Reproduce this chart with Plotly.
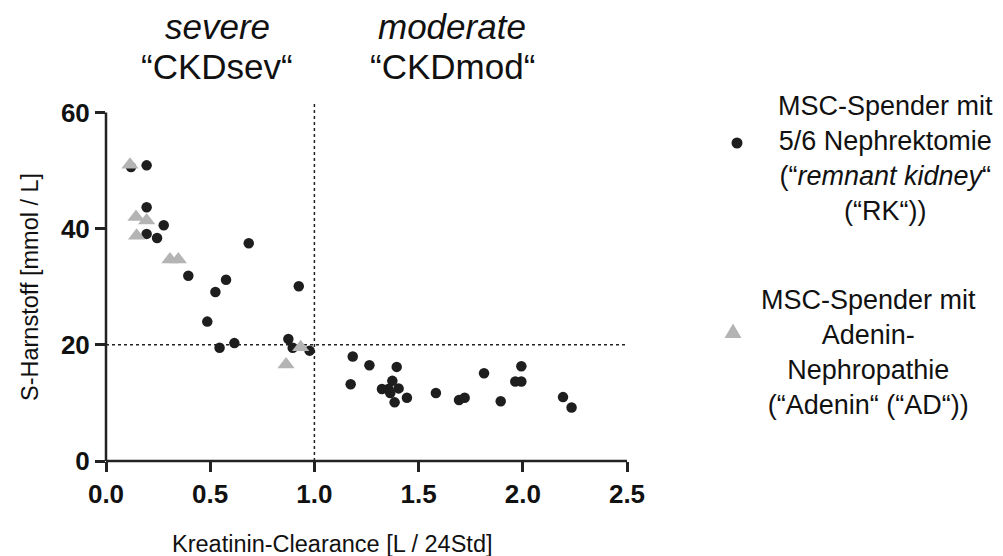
import plotly.graph_objects as go

# ---- data ----
rk_x = [0.12, 0.195, 0.195, 0.277, 0.195, 0.245, 0.685, 0.395, 0.576, 0.525, 0.925, 0.486,
        0.616, 0.545, 0.875, 0.896, 0.977, 1.184, 1.264, 1.395, 1.174, 1.374, 1.324, 1.355,
        1.404, 1.364, 1.444, 1.385, 1.583, 1.694, 1.721, 1.814, 1.993, 1.964, 1.993, 1.894,
        2.193, 2.234]
rk_y = [50.6, 50.9, 43.7, 40.6, 39.1, 38.4, 37.5, 31.9, 31.2, 29.1, 30.1, 24.0,
        20.3, 19.5, 21.0, 19.5, 19.0, 18.0, 16.5, 16.2, 13.2, 13.8, 12.4, 12.4,
        12.5, 11.7, 10.9, 10.1, 11.7, 10.5, 10.9, 15.1, 16.3, 13.7, 13.7, 10.3,
        11.0, 9.2]
ad_x = [0.115, 0.144, 0.195, 0.147, 0.307, 0.347, 0.934, 0.864]
ad_y = [51.0, 42.0, 41.4, 38.8, 34.7, 34.7, 19.6, 16.6]

x_ticks = [0.0, 0.5, 1.0, 1.5, 2.0, 2.5]
x_ticklabels = ["0.0", "0.5", "1.0", "1.5", "2.0", "2.5"]
y_ticks = [0, 20, 40, 60]
y_ticklabels = ["0", "20", "40", "60"]
x_threshold = 1.0
y_threshold = 20

# ---- layout geometry (pixels) ----
W, H = 1003, 556
ML, MR, MT, MB = 106, 376, 98, 95
PW, PH = W - ML - MR, H - MT - MB
XMAX, YMAX = 2.5, 62.5
FONT = "Arial, Liberation Sans, sans-serif"
AX = "#222222"
TXT = "#111111"


def xp(px):
    return (px - ML) / PW


def yp(py):
    return (H - MB - py) / PH


fig = go.Figure()
fig.add_trace(go.Scatter(x=rk_x, y=rk_y, mode="markers", cliponaxis=False,
                         marker=dict(symbol="circle", size=10.5, color="#1e1e1e"),
                         showlegend=False))
fig.add_trace(go.Scatter(x=ad_x, y=ad_y, mode="markers", cliponaxis=False,
                         marker=dict(symbol="triangle-up", size=15, color="#b4b4b4"),
                         showlegend=False))

shapes = [
    # reference dotted lines
    dict(type="line", xref="x", yref="y", x0=x_threshold, x1=x_threshold, y0=0, y1=61.8,
         line=dict(color="#222222", width=1.5, dash="dot"), layer="below"),
    dict(type="line", xref="x", yref="y", x0=0, x1=XMAX, y0=y_threshold, y1=y_threshold,
         line=dict(color="#222222", width=1.5, dash="dot"), layer="below"),
    # axis lines
    dict(type="line", xref="paper", yref="paper", x0=0, x1=0, y0=0, y1=60 / YMAX,
         line=dict(color=AX, width=2.5)),
    dict(type="line", xref="paper", yref="paper", x0=0, x1=1, y0=0, y1=0,
         line=dict(color=AX, width=2.5)),
    # legend markers
    dict(type="circle", xref="paper", yref="paper", xsizemode="pixel", ysizemode="pixel",
         xanchor=xp(737), yanchor=yp(143), x0=-5.5, x1=5.5, y0=-5.5, y1=5.5,
         fillcolor="#1e1e1e", line=dict(width=0)),
    dict(type="path", xref="paper", yref="paper", xsizemode="pixel", ysizemode="pixel",
         xanchor=xp(733), yanchor=yp(332), path="M -8.5 -6 L 8.5 -6 L 0 8.5 Z",
         fillcolor="#b4b4b4", line=dict(width=0)),
]

annotations = [
    dict(text="<i>severe</i>", x=xp(217), y=yp(27)),
    dict(text="“CKDsev“", x=xp(217), y=yp(67)),
    dict(text="<i>moderate</i>", x=xp(452), y=yp(27)),
    dict(text="“CKDmod“", x=xp(452), y=yp(67)),
]
annotations = [dict(a, xref="paper", yref="paper", showarrow=False,
                    xanchor="center", yanchor="middle",
                    font=dict(family=FONT, size=35, color=TXT)) for a in annotations]

leg1 = "MSC-Spender mit<br>5/6 Nephrektomie<br>(“<i>remnant kidney</i>“<br>(“RK“))"
leg2 = "MSC-Spender mit<br>Adenin-<br>Nephropathie<br>(“Adenin“ (“AD“))"
annotations += [
    dict(text=leg1, x=xp(885), y=yp(158), xref="paper", yref="paper", showarrow=False,
         xanchor="center", yanchor="middle", align="center",
         font=dict(family=FONT, size=27, color=TXT)),
    dict(text=leg2, x=xp(868), y=yp(352), xref="paper", yref="paper", showarrow=False,
         xanchor="center", yanchor="middle", align="center",
         font=dict(family=FONT, size=27, color=TXT)),
    dict(text="S-Harnstoff [mmol / L]", x=xp(30), y=yp(287), xref="paper", yref="paper",
         showarrow=False, textangle=-90, xanchor="center", yanchor="middle",
         font=dict(family=FONT, size=23.5, color=TXT)),
    dict(text="Kreatinin-Clearance [L / 24Std]", x=xp(332), y=yp(544), xref="paper",
         yref="paper", showarrow=False, xanchor="center", yanchor="middle",
         font=dict(family=FONT, size=23.5, color=TXT)),
]

fig.update_layout(
    width=W, height=H, margin=dict(l=ML, r=MR, t=MT, b=MB),
    paper_bgcolor="white", plot_bgcolor="white",
    shapes=shapes, annotations=annotations, showlegend=False,
    xaxis=dict(range=[0, XMAX], tickvals=x_ticks, ticktext=x_ticklabels,
               showgrid=False, zeroline=False, showline=False,
               ticks="outside", ticklen=10, tickwidth=2.5, tickcolor=AX,
               tickfont=dict(family=FONT, size=26, color=TXT, weight="bold")),
    yaxis=dict(range=[0, YMAX], tickvals=y_ticks, ticktext=y_ticklabels,
               showgrid=False, zeroline=False, showline=False,
               ticks="outside", ticklen=10, tickwidth=2.5, tickcolor=AX,
               tickfont=dict(family=FONT, size=26, color=TXT, weight="bold")),
)

fig.write_html("out.html")
